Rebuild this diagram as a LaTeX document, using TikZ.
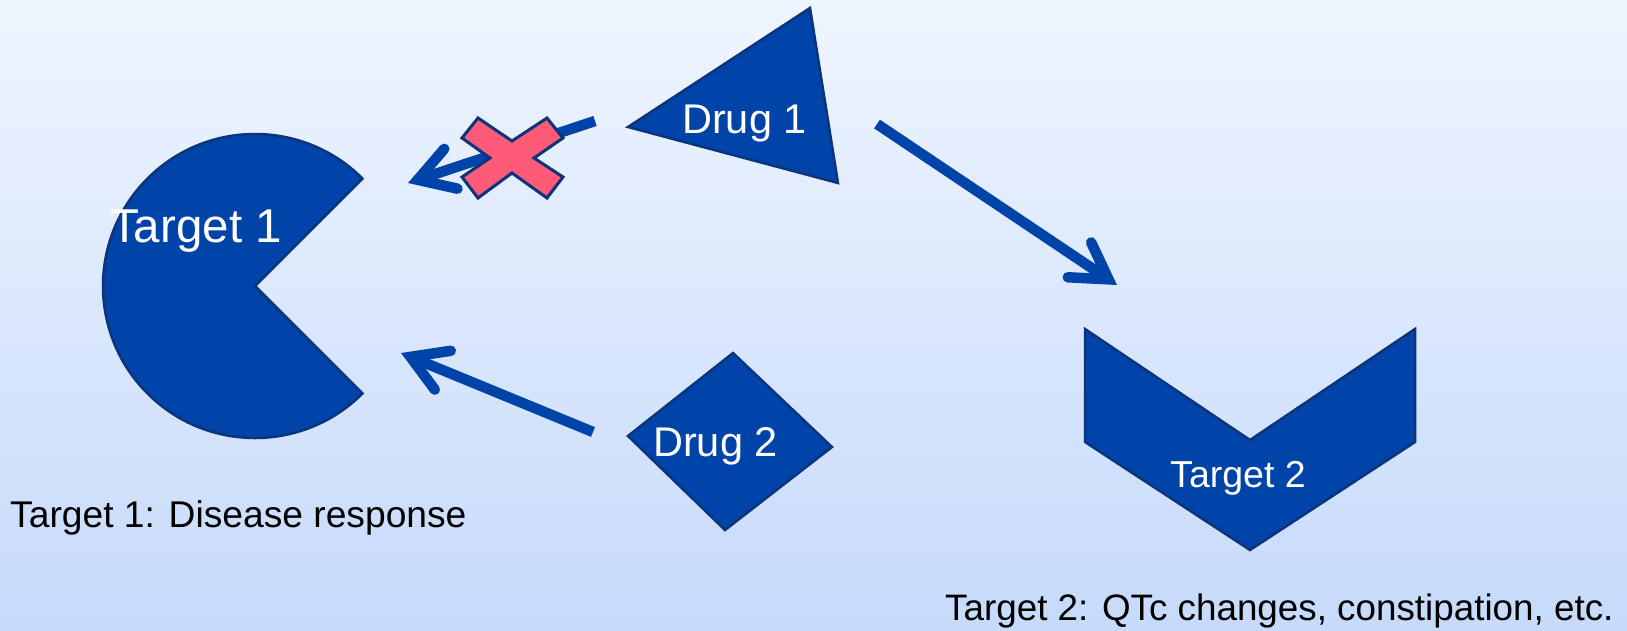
\documentclass[tikz,border=0pt]{standalone}
\usepackage{fontspec}
\setmainfont{Liberation Sans}
\usetikzlibrary{arrows.meta}
\definecolor{bgtop}{RGB}{239,245,254}
\definecolor{bgbot}{RGB}{198,218,250}
\definecolor{shapefill}{RGB}{0,68,170}
\definecolor{shapeline}{RGB}{12,52,122}
\definecolor{crossfill}{RGB}{255,90,120}
\tikzset{
  shapebox/.style={fill=shapefill, draw=shapeline, line width=2.5pt, line join=miter},
  crossbox/.style={fill=crossfill, draw=shapeline, line width=3pt, line join=miter},
  flow/.style={draw=shapefill, line width=10.5pt,
    -{Straight Barb[length=35pt,width=42pt,line cap=round,line join=miter]}},
  intext/.style={text=white, inner sep=0pt, anchor=base west},
  caption/.style={text=black, inner sep=0pt, anchor=base west},
}
\begin{document}
\begin{tikzpicture}[x=1pt,y=-1pt]
\useasboundingbox (0,0) rectangle (1627,630);
\shade[top color=bgtop,bottom color=bgbot] (0,0) rectangle (1627,630);
% Target 1 (pie)
\coordinate (t1c) at (255,286);
\draw[shapebox] (t1c) -- ++(45:152) arc[start angle=45,end angle=315,radius=152] -- cycle;
% Drug 1 (triangle)
\draw[shapebox] (628,127) -- (810,8) -- (838,183) -- cycle;
% Drug 2 (diamond)
\draw[shapebox] (733,353) -- (832,447) -- (725,530) -- (628,436) -- cycle;
% Target 2 (chevron)
\draw[shapebox] (1085,329) -- (1250,440) -- (1415,329) -- (1415,442) -- (1250,550) -- (1085,442) -- cycle;
% texts
\node[intext, font=\fontsize{47.5}{56}\selectfont] (t1) at (110,242) {Target 1};
\node[intext, font=\fontsize{41.5}{50}\selectfont] (d1) at (682,133) {Drug 1};
\node[intext, font=\fontsize{41.5}{50}\selectfont] (d2) at (653,456) {Drug 2};
\node[intext, font=\fontsize{37.5}{45}\selectfont] (t2) at (1170,487) {Target 2};
\node[caption, font=\fontsize{37.2}{45}\selectfont] (c1) at (10,527) {Target 1: Disease response};
\node[caption, font=\fontsize{36.8}{45}\selectfont] (c2) at (945,620) {Target 2: QTc changes, constipation, etc.};
% connectors
\coordinate (a1s) at (595,121);
\coordinate (a1e) at (408,183);
\coordinate (a2s) at (877,124);
\coordinate (a2e) at (1117,285);
\coordinate (a3s) at (593,432);
\coordinate (a3e) at (401,353);
\draw[flow] (a1s) -- (a1e);
\draw[flow] (a2s) -- (a2e);
\draw[flow] (a3s) -- (a3e);
% blocking cross
\draw[crossbox] (462,138) -- (478,118) -- (512,141) -- (547,118) -- (563,138) -- (534,158)
  -- (563,177) -- (547,198) -- (512,173) -- (478,198) -- (462,177) -- (490,158) -- cycle;
\end{tikzpicture}
\end{document}
